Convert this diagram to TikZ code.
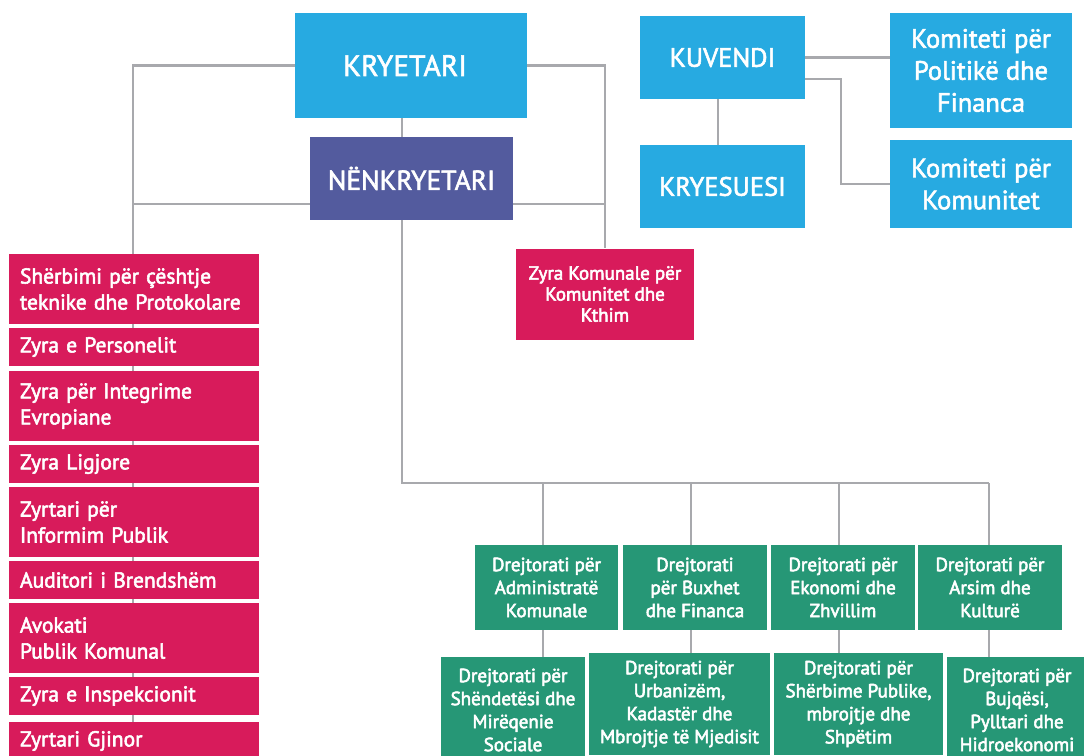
\documentclass[tikz,border=0pt]{standalone}
\usepackage{fontspec}
\setmainfont{PT Sans}
\usetikzlibrary{calc}
\definecolor{cblue}{RGB}{39,170,225}
\definecolor{cpurple}{RGB}{83,91,158}
\definecolor{cpink}{RGB}{216,27,91}
\definecolor{cgreen}{RGB}{38,151,118}
\definecolor{cline}{RGB}{168,169,173}
\pgfdeclarelayer{bg}
\pgfsetlayers{bg,main}
\newcommand{\heavyon}{\special{pdf:literal direct 2 Tr 0.55 w 1 1 1 RG}}
\newcommand{\heavyoff}{\special{pdf:literal direct 0 Tr}}
\begin{document}
\begin{tikzpicture}[x=1pt,y=-1pt,
  box/.style={inner sep=0pt, text=white, align=center,
     execute at begin node=\heavyon, execute at end node=\heavyoff},
  sz/.style 2 args={minimum width=#1, minimum height=#2},
  bluebox/.style={box, fill=cblue},
  purplebox/.style={box, fill=cpurple},
  pinkbox/.style={box, fill=cpink},
  greenbox/.style={box, fill=cgreen, font=\fontsize{19}{23}\selectfont},
  leftbox/.style={box, fill=cpink, align=left, inner xsep=11pt, text width=228pt,
     minimum height=#1, font=\fontsize{21.5}{26}\selectfont},
  headfont/.style={font=\fontsize{29.5}{34}\selectfont},
  midfont/.style={font=\fontsize{26.5}{32}\selectfont},
  conn/.style={draw=cline, line width=2.2pt},
]
\useasboundingbox (0,0) rectangle (1084,755);

% top nodes
\node[bluebox, headfont, sz={232}{105}] (kry) at (411,65.5) {\hspace*{-12pt}KRYETARI};
\node[purplebox, font=\fontsize{27.5}{32}\selectfont, sz={203}{83}] (nen) at (411.5,178.5) {NËNKRYETARI};
\node[bluebox, midfont, sz={165}{83}] (kuv) at (722.5,57.5) {KUVENDI};
\node[bluebox, midfont, sz={165}{83}] (kres) at (722.5,186.5) {KRYESUESI};
\node[bluebox, midfont, sz={182}{115}] (kom1) at (981,70.5) {Komiteti për\\Politikë dhe\\Financa};
\node[bluebox, midfont, sz={182}{88}] (kom2) at (981,184) {Komiteti për\\Komunitet};
\node[pinkbox, font=\fontsize{19}{21}\selectfont, sz={178}{91}] (zkk) at (605,294) {Zyra Komunale për\\Komunitet dhe\\Kthim};

% left column
\node[leftbox=70pt] (p1) at (134,289) {Shërbimi për çështje\\teknike dhe Protokolare};
\node[leftbox=38pt] (p2) at (134,347) {Zyra e Personelit};
\node[leftbox=70pt] (p3) at (134,406) {Zyra për Integrime\\Evropiane};
\node[leftbox=38pt] (p4) at (134,464) {Zyra Ligjore};
\node[leftbox=70pt] (p5) at (134,522) {Zyrtari për\\Informim Publik};
\node[leftbox=38pt] (p6) at (134,580) {Auditori i Brendshëm};
\node[leftbox=70pt] (p7) at (134,638) {Avokati\\Publik Komunal};
\node[leftbox=38pt] (p8) at (134,696) {Zyra e Inspekcionit};
\node[leftbox=38pt] (p9) at (134,741) {Zyrtari Gjinor};

% green row 1
\node[greenbox, sz={143}{85}] (g1) at (546.5,587.5) {Drejtorati për\\Administratë\\Komunale};
\node[greenbox, sz={144}{85}] (g2) at (695,587.5) {Drejtorati\\për Buxhet\\dhe Financa};
\node[greenbox, sz={144}{85}] (g3) at (843,587.5) {Drejtorati për\\Ekonomi dhe\\Zhvillim};
\node[greenbox, sz={144}{85}] (g4) at (990,587.5) {Drejtorati për\\Arsim dhe\\Kulturë};

% green row 2
\node[greenbox, sz={144}{106}] (h1) at (513,710) {Drejtorati për\\Shëndetësi dhe\\Mirëqenie\\Sociale};
\node[greenbox, sz={181}{102}] (h2) at (679.5,704) {Drejtorati për\\Urbanizëm,\\Kadastër dhe\\Mbrojtje të Mjedisit};
\node[greenbox, sz={169}{102}] (h3) at (858.5,704) {Drejtorati për\\Shërbime Publike,\\mbrojtje dhe\\Shpëtim};
\node[greenbox, sz={140}{106}] (h4) at (1017,710) {Drejtorati për\\Bujqësi,\\Pylltari dhe\\Hidroekonomi};

% helper coordinates
\coordinate (lx) at (133,755);
\coordinate (nl) at (133,204);
\coordinate (nr) at (605,204);
\coordinate (sp) at (402,483);
\coordinate (c1) at (543,483);
\coordinate (c2) at (691,483);
\coordinate (c3) at (839,483);
\coordinate (c4) at (989,483);
\coordinate (kx) at (718,0);
\coordinate (kb) at (841,184);

\begin{pgfonlayer}{bg}
  \fill[white] (0,0) rectangle (1084,755);
  \draw[conn] (kry.west) -| (lx);
  \draw[conn] (nl) -- (nl -| nen.west);
  \draw[conn] (kry.east) -| (zkk.north);
  \draw[conn] (nen.east |- nr) -- (nr);
  \draw[conn] (kry.south -| sp) -- (nen.north -| sp);
  \draw[conn] (nen.south -| sp) -- (sp) -- (c4);
  \draw[conn] (c1) -- (g1.north -| c1);
  \draw[conn] (c2) -- (g2.north -| c2);
  \draw[conn] (c3) -- (g3.north -| c3);
  \draw[conn] (c4) -- (g4.north -| c4);
  \draw[conn] (g1.south -| c1) -- (h1.north -| c1);
  \draw[conn] (g2.south -| c2) -- (h2.north -| c2);
  \draw[conn] (g3.south -| c3) -- (h3.north -| c3);
  \draw[conn] (g4.south -| c4) -- (h4.north -| c4);
  \draw[conn] (kuv.south -| kx) -- (kres.north -| kx);
  \draw[conn] (kuv.east) -- (kuv.east -| kom1.west);
  \draw[conn] ([yshift=-21.5pt]kuv.east) -| (kb) -- (kom2.west);
\end{pgfonlayer}
\end{tikzpicture}
\end{document}
